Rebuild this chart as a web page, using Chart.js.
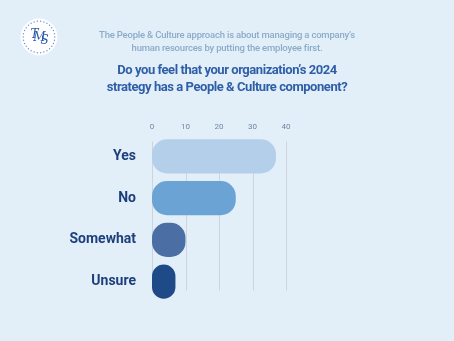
<!DOCTYPE html>
<html>
<head>
<meta charset="utf-8">
<script src="https://cdn.jsdelivr.net/npm/chart.js@4/dist/chart.umd.min.js"></script>
<style>
  html, body { margin: 0; padding: 0; background: #e2eff8; }
  #wrap { width: 454px; height: 341px; position: relative; }
</style>
</head>
<body>
<div id="wrap"><canvas id="c" width="454" height="341"></canvas></div>
<script>
const categories = ['Yes', 'No', 'Somewhat', 'Unsure'];
const responses = [37, 25, 10, 7];
const barColors = ['#b4cfe9', '#6aa3d4', '#4b6ea5', '#1e4a88'];
const tickValues = [0, 10, 20, 30, 40];
const introLines = [
  'The People & Culture approach is about managing a company\u2019s',
  'human resources by putting the employee first.'
];
const questionLines = [
  'Do you feel that your organization\u2019s 2024',
  'strategy has a People & Culture component?'
];

// Header text and the round logo badge
const headerPlugin = {
  id: 'header',
  beforeDraw(chart) {
    const ctx = chart.ctx;
    ctx.save();
    ctx.textAlign = 'center';
    ctx.textBaseline = 'middle';
    ctx.fillStyle = '#8cabc9';
    ctx.font = '500 9.5px Roboto, sans-serif';
    ctx.letterSpacing = '-0.2px';
    ctx.fillText(introLines[0], 227, 35.5);
    ctx.fillText(introLines[1], 227, 49);
    ctx.fillStyle = '#2f5ea8';
    ctx.font = 'bold 13px Roboto, sans-serif';
    ctx.letterSpacing = '-0.45px';
    ctx.fillText(questionLines[0], 227, 71);
    ctx.fillText(questionLines[1], 227, 87.5);
    ctx.letterSpacing = '0px';

    // logo badge
    const cx = 39, cy = 37, r = 18.5;
    ctx.fillStyle = '#ffffff';
    ctx.beginPath();
    ctx.arc(cx, cy, r, 0, Math.PI * 2);
    ctx.fill();
    ctx.fillStyle = '#6a96d0';
    const n = 30;
    for (let i = 0; i < n; i++) {
      const a = (i / n) * Math.PI * 2;
      ctx.beginPath();
      ctx.arc(cx + Math.cos(a) * 15.8, cy + Math.sin(a) * 15.8, 0.7, 0, Math.PI * 2);
      ctx.fill();
    }
    ctx.fillStyle = '#2a5aa8';
    ctx.font = 'italic 12px "DejaVu Serif", serif';
    ctx.fillText('T', cx - 4.5, cy - 2);
    ctx.fillText('M', cx + 0.5, cy + 1);
    ctx.fillText('S', cx + 5.5, cy + 3.5);
    ctx.restore();
  }
};

// Short vertical grid lines behind the bars
const gridPlugin = {
  id: 'shortGrid',
  beforeDatasetsDraw(chart) {
    const ctx = chart.ctx;
    const xs = chart.scales.x;
    const area = chart.chartArea;
    ctx.save();
    ctx.strokeStyle = '#cdd4dd';
    ctx.lineWidth = 1;
    tickValues.forEach(v => {
      const x = Math.round(xs.getPixelForValue(v)) + 0.5;
      ctx.beginPath();
      ctx.moveTo(x, area.top + 6);
      ctx.lineTo(x, area.bottom - 12);
      ctx.stroke();
    });
    ctx.restore();
  }
};

new Chart(document.getElementById('c'), {
  type: 'bar',
  data: {
    labels: categories,
    datasets: [{
      data: responses,
      backgroundColor: barColors,
      borderRadius: 15,
      borderSkipped: false,
      barPercentage: 0.82,
      categoryPercentage: 1
    }]
  },
  options: {
    indexAxis: 'y',
    responsive: false,
    animation: false,
    events: [],
    layout: { padding: { left: 52, right: 168, top: 118, bottom: 38.5 } },
    plugins: { legend: { display: false }, tooltip: { enabled: false } },
    scales: {
      x: {
        position: 'top',
        min: 0,
        max: 40,
        afterBuildTicks(scale) { scale.ticks = tickValues.map(v => ({ value: v })); },
        afterFit(scale) { scale.height = 17.5; },
        grid: { display: false, drawTicks: false },
        border: { display: false },
        ticks: {
          padding: 4,
          color: '#6f86a3',
          font: { family: 'Roboto, sans-serif', size: 8 }
        }
      },
      y: {
        afterFit(scale) { scale.width = 100; },
        grid: { display: false, drawTicks: false },
        border: { display: false },
        ticks: {
          padding: 16,
          color: '#1d3f7c',
          font: { family: 'Roboto, sans-serif', size: 14, weight: 'bold' }
        }
      }
    }
  },
  plugins: [headerPlugin, gridPlugin]
});
</script>
</body>
</html>
